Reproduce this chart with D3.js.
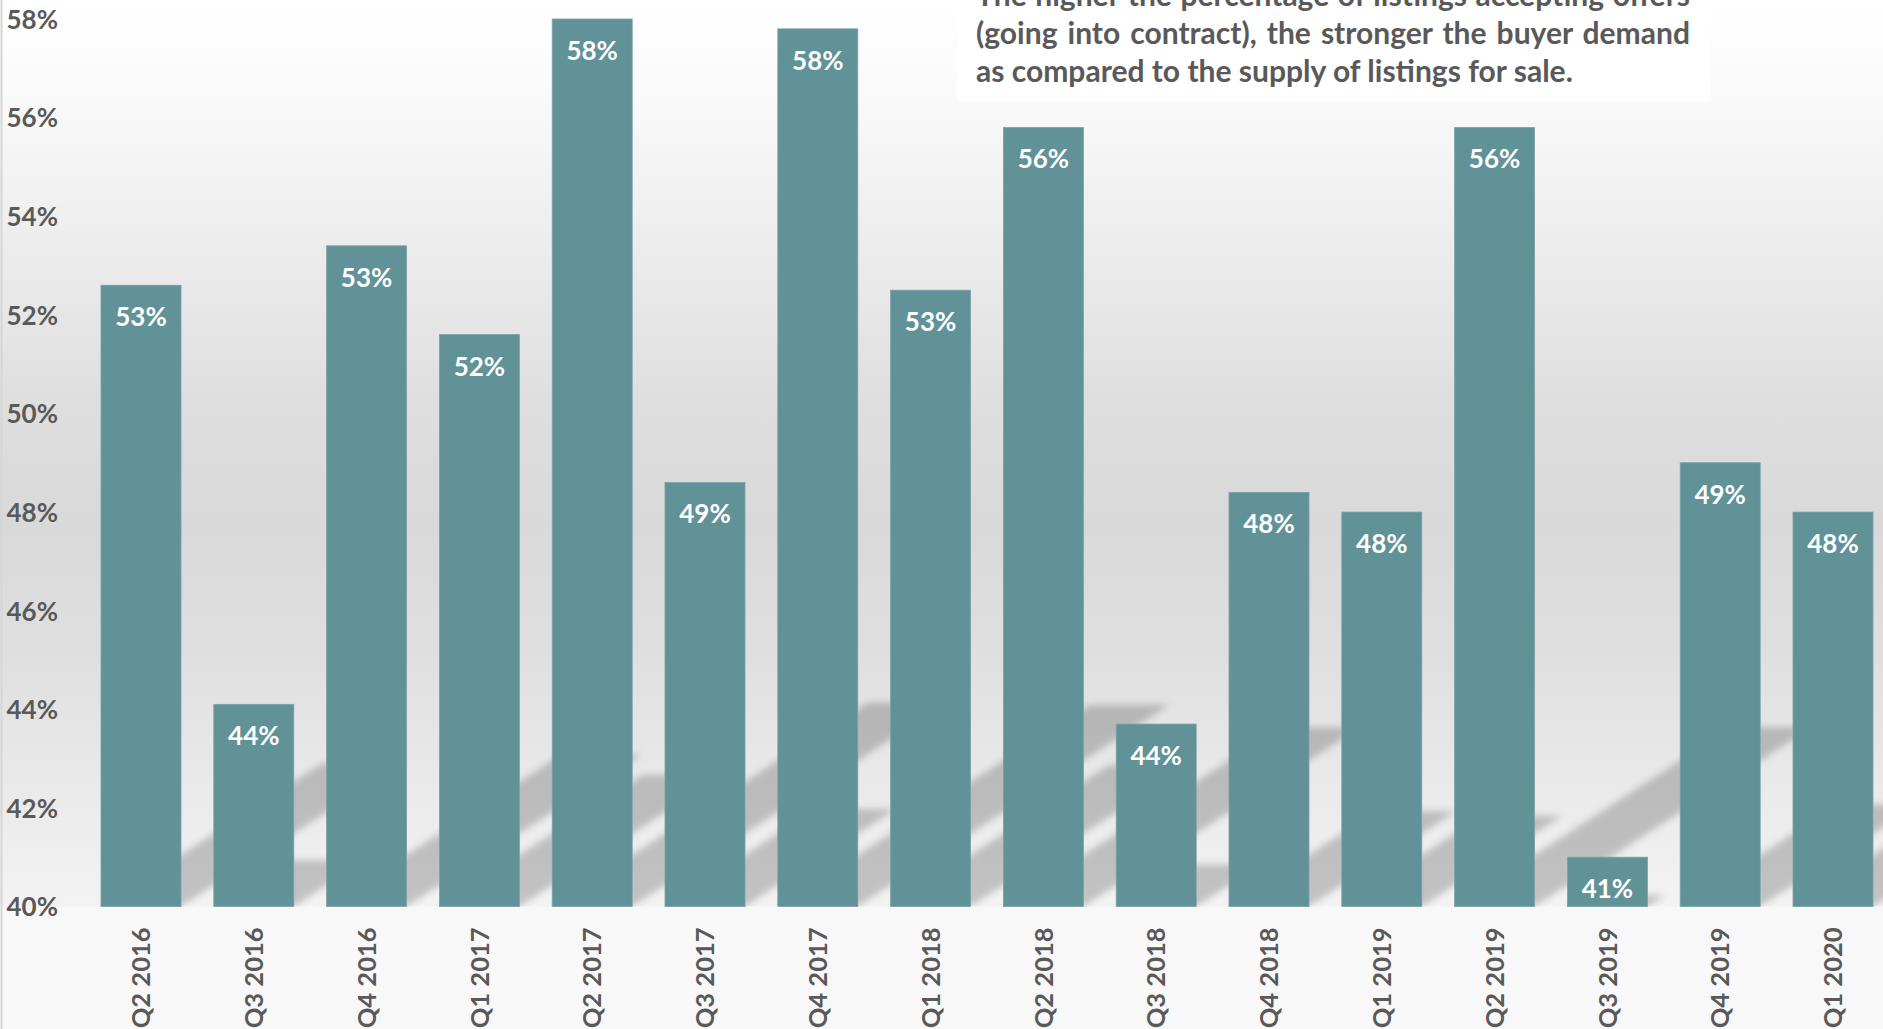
<!DOCTYPE html>
<html>
<head>
<meta charset="utf-8">
<script src="https://cdn.jsdelivr.net/npm/d3@7"></script>
<style>
  body { margin: 0; background: #ffffff; overflow: hidden; }
  text { font-family: Lato, "Open Sans", "Noto Sans", sans-serif; font-weight: 700; }
</style>
</head>
<body>
<svg id="chart" width="1883" height="1029"></svg>
<script>
// ---- data ----
const categories = ["Q2 2016","Q3 2016","Q4 2016","Q1 2017","Q2 2017","Q3 2017","Q4 2017","Q1 2018",
                    "Q2 2018","Q3 2018","Q4 2018","Q1 2019","Q2 2019","Q3 2019","Q4 2019","Q1 2020"];
const values = [52.6, 44.1, 53.4, 51.6, 58.0, 48.6, 57.8, 52.5, 55.8, 43.7, 48.4, 48.0, 55.8, 41.0, 49.0, 48.0];
const yTicks = [40, 42, 44, 46, 48, 50, 52, 54, 56, 58];
const noteLines = [
  "The higher the percentage of listings accepting offers",
  "(going into contract), the stronger the buyer demand",
  "as compared to the supply of listings for sale."
];

// ---- layout ----
const W = 1883, H = 1029;
const base = 906.5;
const svg = d3.select("#chart");
const defs = svg.append("defs");

const grad = defs.append("linearGradient").attr("id", "bg").attr("x1", 0).attr("y1", 0).attr("x2", 0).attr("y2", 1);
[[0, "#ffffff"], [0.1, "#fafafa"], [0.25, "#eeeeee"], [0.45, "#dedede"], [0.58, "#d9d9d9"],
 [0.72, "#dfdfdf"], [0.86, "#e9e9e9"], [1, "#f3f3f3"]].forEach(([o, c]) =>
  grad.append("stop").attr("offset", o).attr("stop-color", c));

defs.append("filter").attr("id", "blur").attr("x", "-20%").attr("y", "-20%").attr("width", "140%").attr("height", "140%")
  .append("feGaussianBlur").attr("stdDeviation", 3.5);
defs.append("clipPath").attr("id", "plotClip").append("rect")
  .attr("x", 0).attr("y", 0).attr("width", W).attr("height", base);

svg.append("rect").attr("x", 0).attr("y", 0).attr("width", W).attr("height", H).attr("fill", "#f8f8f8");
svg.append("rect").attr("x", 0).attr("y", 0).attr("width", W).attr("height", base).attr("fill", "url(#bg)");

const x = d3.scaleBand().domain(categories).range([84.6, 1889.4]).paddingInner(0.2908).paddingOuter(0.1454);
const y = d3.scaleLinear().domain([40, 58]).range([base, 19]);

const data = categories.map((c, i) => ({ c, v: values[i] }));

// ---- perspective shadows ----
const shadowG = svg.append("g").attr("clip-path", "url(#plotClip)")
  .append("g").attr("filter", "url(#blur)");
shadowG.selectAll("path").data(data).join("path")
  .attr("d", d => {
    const x0 = x(d.c), x1 = x0 + x.bandwidth();
    const hb = base - y(d.v);
    const h = 0.23 * hb, dx = 1.545 * h;
    return `M${x0},${base}L${x1},${base}L${x1 + dx},${base - h}L${x0 + dx},${base - h}Z`;
  })
  .attr("fill", "#000").attr("fill-opacity", 0.2);

// ---- bars ----
svg.append("g").selectAll("rect").data(data).join("rect")
  .attr("x", d => x(d.c)).attr("width", x.bandwidth())
  .attr("y", d => y(d.v)).attr("height", d => base - y(d.v))
  .attr("fill", "#609298").attr("stroke", "#7aa2a7").attr("stroke-width", 0.8);

// ---- data labels ----
svg.append("g").selectAll("text").data(data).join("text")
  .attr("x", d => x(d.c) + x.bandwidth() / 2)
  .attr("y", d => y(d.v) + 41)
  .attr("text-anchor", "middle")
  .attr("fill", "#ffffff").attr("font-size", 26)
  .text(d => d3.format(".0f")(d.v) + "%");

// ---- left border ----
svg.append("line").attr("x1", 1.5).attr("x2", 1.5).attr("y1", 0).attr("y2", H)
  .attr("stroke", "#d6d6d6").attr("stroke-width", 2);

// ---- y axis ----
const yAxis = svg.append("g").attr("transform", "translate(58,0)")
  .call(d3.axisLeft(y).tickValues(yTicks).tickFormat(d => d + "%").tickSize(0).tickPadding(0));
yAxis.select(".domain").remove();
yAxis.selectAll("text").attr("fill", "#595959").attr("font-size", 26)
  .attr("font-family", "Lato, 'Open Sans', sans-serif").attr("font-weight", 700).attr("dy", "0.36em");

// ---- x axis ----
const xAxis = svg.append("g").attr("transform", `translate(0,${base})`)
  .call(d3.axisBottom(x).tickSize(0).tickPadding(0));
xAxis.select(".domain").remove();
xAxis.selectAll("text")
  .attr("transform", "rotate(-90)")
  .attr("x", -21).attr("y", 0).attr("dy", "0.36em")
  .attr("text-anchor", "end")
  .attr("fill", "#595959").attr("font-size", 25.5)
  .attr("font-family", "Lato, 'Open Sans', sans-serif").attr("font-weight", 700);

// ---- annotation box ----
svg.append("rect").attr("x", 957).attr("y", 0).attr("width", 753).attr("height", 101).attr("fill", "#ffffff");
const noteG = svg.append("g");
const noteTexts = noteG.selectAll("text").data(noteLines).join("text")
  .attr("x", 976).attr("y", (d, i) => 6 + i * 38)
  .attr("fill", "#595959").attr("font-size", 24)
  .text(d => d);
// fit font so the last line matches its width, then justify the first two lines
const lastW = noteTexts.nodes()[2].getComputedTextLength();
const fs = 24 * 597 / lastW;
noteTexts.attr("font-size", fs);
noteTexts.each(function (d, i) {
  if (i < 2) {
    const w = this.getComputedTextLength();
    const spaces = d.split(" ").length - 1;
    d3.select(this).attr("word-spacing", (714 - w) / spaces);
  }
});
</script>
</body>
</html>
